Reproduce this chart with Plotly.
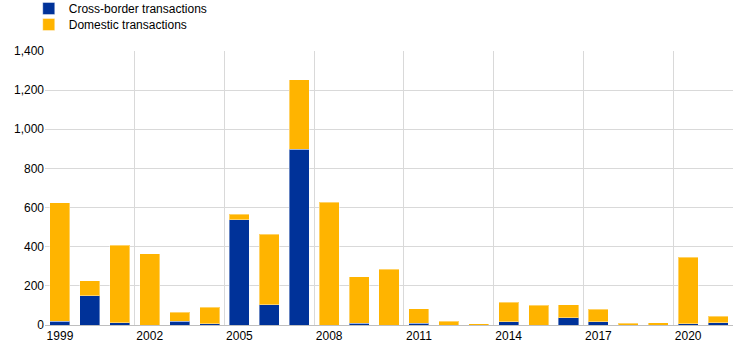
import plotly.graph_objects as go

years = [str(y) for y in range(1999, 2022)]
total = [624, 227, 408, 364, 66, 91, 567, 463, 1254, 628, 246, 286, 84, 20, 7, 115, 100, 103, 80, 9, 12, 346, 45]
cross_border = [18, 150, 12, 0, 20, 6, 538, 103, 898, 0, 10, 0, 8, 0, 0, 17, 0, 38, 16, 0, 0, 6, 12]
domestic = [t - c for t, c in zip(total, cross_border)]

fig = go.Figure()
fig.add_trace(go.Bar(x=years, y=cross_border, name="Cross-border transactions", legend="legend",
                     marker=dict(color="#003299", line=dict(color="rgba(255,255,255,0.4)", width=1))))
fig.add_trace(go.Bar(x=years, y=domestic, name="Domestic transactions", legend="legend2",
                     marker=dict(color="#FFB400", line=dict(color="rgba(255,255,255,0.4)", width=1))))

leg = dict(x=-0.0236, xref="paper", yref="container", xanchor="left", yanchor="middle",
           orientation="v", font=dict(size=12), itemwidth=30, bgcolor="rgba(0,0,0,0)")

fig.update_layout(
    barmode="stack",
    bargap=0.33,
    width=744, height=353,
    margin=dict(l=45, r=11, t=51, b=28, autoexpand=False),
    plot_bgcolor="white", paper_bgcolor="white",
    font=dict(family="Liberation Sans, Arial, sans-serif", size=12, color="#000000"),
    legend=dict(leg, y=1 - 8.5 / 353),
    legend2=dict(leg, y=1 - 24.5 / 353),
    showlegend=True,
)
fig.update_xaxes(type="category", tickmode="linear", dtick=3, tick0=0, tickson="boundaries",
                 showgrid=True, gridcolor="#d9d9d9", gridwidth=1, tickangle=0,
                 ticks="", showline=True, linecolor="#bfbfbf", linewidth=1,
                 tickfont=dict(size=12))
fig.update_yaxes(range=[0, 1400], dtick=200, tickformat=",", showgrid=True,
                 gridcolor="#d9d9d9", gridwidth=1, zeroline=False, ticks="",
                 tickfont=dict(size=12))

fig.write_html("out.html")
